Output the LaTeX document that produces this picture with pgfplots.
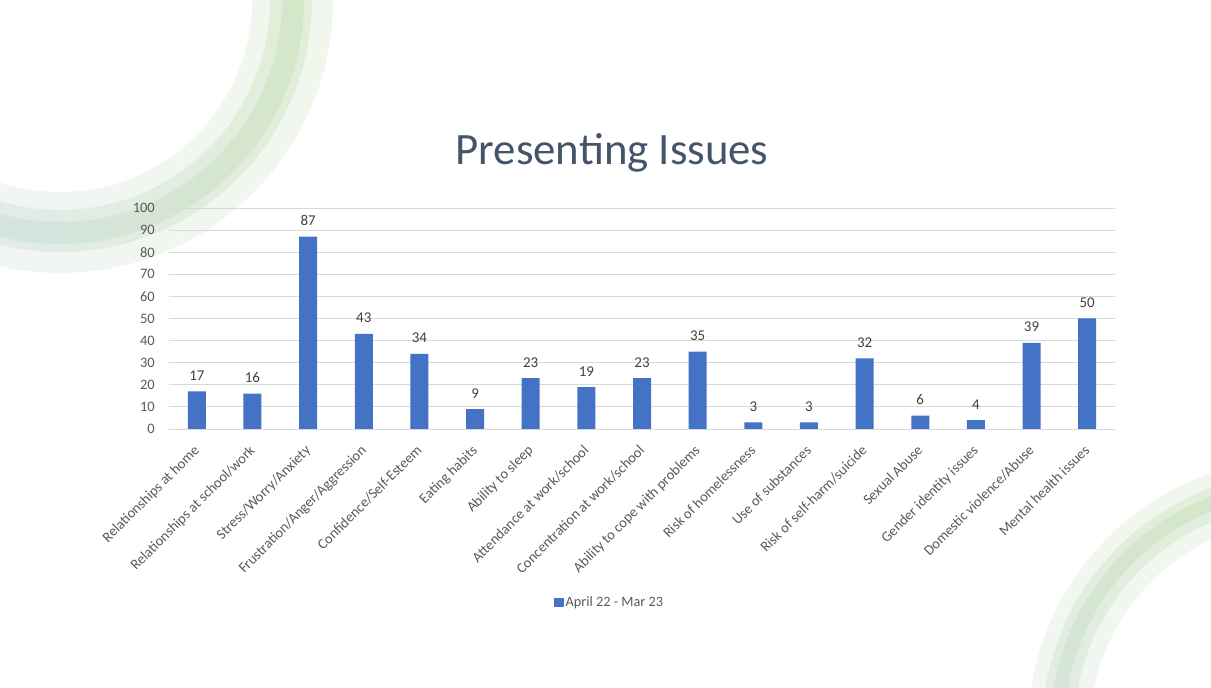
\documentclass[border=0pt]{standalone}
\usepackage{pgfplots}
\pgfplotsset{compat=1.18}
\usepackage{fontspec}
\setmainfont{Carlito}
\definecolor{barblue}{HTML}{4472C4}
\definecolor{gridgray}{HTML}{D9D9D9}
\definecolor{ticktext}{HTML}{595959}
\definecolor{labtext}{HTML}{404040}
\definecolor{titlecol}{HTML}{44546A}
\definecolor{ringgreen}{HTML}{A9D08E}
\definecolor{ringblue}{HTML}{A8BDE0}
\begin{document}
\begin{tikzpicture}[x=1bp,y=1bp]
\path[use as bounding box] (0,0) rectangle (1211,688);
\begin{scope}
\clip (0,0) rectangle (1211,688);
% top-left decorative ring
\shade[left color=ringblue, right color=ringgreen, opacity=0.16, even odd rule]
  (60,688) circle (273) (60,688) circle (192);
\shade[left color=ringblue, right color=ringgreen, opacity=0.22, even odd rule]
  (60,688) circle (252) (60,688) circle (210);
\shade[left color=ringblue, right color=ringgreen, opacity=0.22, even odd rule]
  (60,688) circle (244) (60,688) circle (222);
% bottom-right decorative ring
\shade[top color=ringgreen, bottom color=ringblue, opacity=0.16, even odd rule]
  (1300,-42) circle (272) (1300,-42) circle (210);
\shade[top color=ringgreen, bottom color=ringblue, opacity=0.22, even odd rule]
  (1300,-42) circle (258) (1300,-42) circle (226);
\shade[top color=ringgreen, bottom color=ringblue, opacity=0.22, even odd rule]
  (1300,-42) circle (250) (1300,-42) circle (236);
\end{scope}
\node[font=\fontsize{45}{52}\selectfont, text=titlecol, anchor=base, inner sep=0pt] at (612,523) {Presenting Issues};
\begin{axis}[
  at={(169bp,259bp)}, anchor=south west,
  scale only axis, width=946bp, height=221bp,
  xmin=-0.5, xmax=16.5, ymin=0, ymax=100,
  ybar, bar width=18bp,
  axis x line*=bottom, axis y line*=left,
  x axis line style={draw=gridgray, line width=0.8bp},
  y axis line style={draw=none},
  major tick length=0pt,
  ytick={0,10,...,100},
  ymajorgrids, grid style={draw=gridgray, line width=0.8bp},
  xtick={0,...,16},
  xticklabels={Relationships at home,Relationships at school/work,Stress/Worry/Anxiety,Frustration/Anger/Aggression,Confidence/Self-Esteem,Eating habits,Ability to sleep,Attendance at work/school,Concentration at work/school,Ability to cope with problems,Risk of homelessness,Use of substances,Risk of self-harm/suicide,Sexual Abuse,Gender identity issues,Domestic violence/Abuse,Mental health issues},
  x tick label style={inner sep=0pt, yshift=-15bp, xshift=-4bp, rotate=45, anchor=north east, font=\fontsize{14.5}{17}\selectfont, text=ticktext},
  y tick label style={anchor=east, inner sep=0pt, xshift=-14bp, font=\fontsize{14.5}{17}\selectfont, text=ticktext},
  /pgf/number format/assume math mode=true,
  nodes near coords,
  every node near coord/.append style={font=\fontsize{15}{18}\selectfont, text=labtext, inner sep=0pt, anchor=base, yshift=11bp},
  legend style={at={(0.4655,-0.783)}, anchor=center, draw=none, fill=none, font=\fontsize{14.3}{17}\selectfont, text=ticktext, inner sep=0pt, nodes={inner sep=2bp}},
  legend image code/.code={\fill[barblue] (0bp,-4.5bp) rectangle (10bp,4.5bp);},
]
\addplot[fill=barblue, draw=none] coordinates {
(0,17) (1,16) (2,87) (3,43) (4,34) (5,9) (6,23) (7,19) (8,23) (9,35) (10,3) (11,3) (12,32) (13,6) (14,4) (15,39) (16,50)
};
\addlegendentry{April 22 - Mar 23}
\end{axis}
\end{tikzpicture}
\end{document}
